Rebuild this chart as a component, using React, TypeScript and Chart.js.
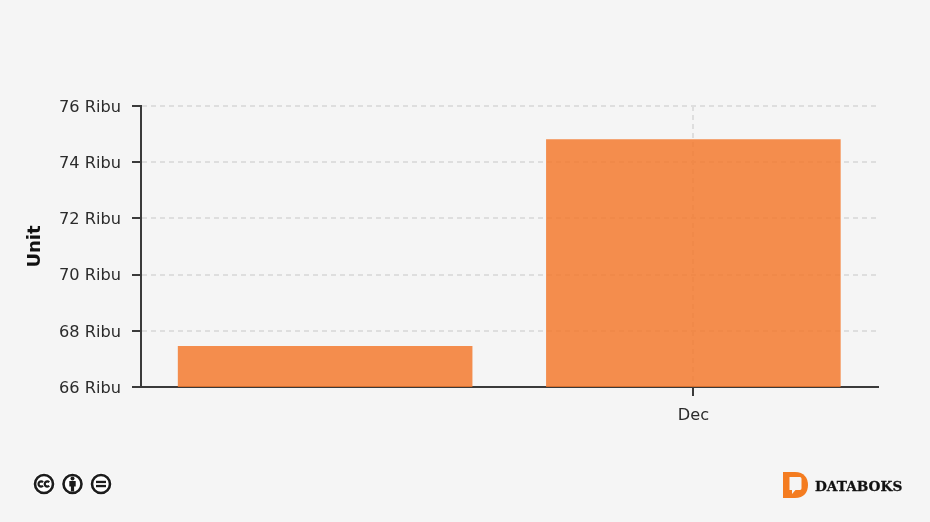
import React, { useEffect, useRef } from "react";
import { Chart, registerables } from "chart.js";

Chart.register(...registerables);

const categories = ["", "Dec"];
const unitValues = [67460, 74820];
const yMin = 66000;
const yMax = 76000;
const yStep = 2000;
const yTitle = "Unit";
const tickSuffix = " Ribu";
const brand = "DATABOKS";

const FONT = "'DejaVu Sans', sans-serif";
const INK = "#2b2b2b";
const AXIS = "#3a3a3a";
const GRID = "#dedede";
const BG = "#f5f5f5";

function CcIcons() {
  const ring = { fill: "#fff", stroke: "#1c1c1c", strokeWidth: 2.6 };
  const halo = { r: 11, fill: "#ffffff" };
  return (
    <svg width="100" height="30" viewBox="0 0 100 30" style={{ position: "absolute", left: 28, top: 469 }}>
      <g transform="translate(16,15)">
        <circle {...halo} />
        <circle r="9" {...ring} />
        <path d="M-1 -1.8 A2.6 2.6 0 1 0 -1 1.8" fill="none" stroke="#1c1c1c" strokeWidth="2.2" />
        <path d="M5.2 -1.8 A2.6 2.6 0 1 0 5.2 1.8" fill="none" stroke="#1c1c1c" strokeWidth="2.2" />
      </g>
      <g transform="translate(44.5,15)">
        <circle {...halo} />
        <circle r="9" {...ring} />
        <circle cy="-5.4" r="2" fill="#1c1c1c" />
        <path d="M-3.2 -3 H3.2 V2.4 H1.6 V7.6 H-1.6 V2.4 H-3.2 Z" fill="#1c1c1c" />
      </g>
      <g transform="translate(73,15)">
        <circle {...halo} />
        <circle r="9" {...ring} />
        <rect x="-5" y="-3.2" width="10" height="2.3" fill="#1c1c1c" />
        <rect x="-5" y="0.9" width="10" height="2.3" fill="#1c1c1c" />
      </g>
    </svg>
  );
}

function Brand() {
  return (
    <svg width="130" height="32" viewBox="0 0 130 32" style={{ position: "absolute", left: 780, top: 470 }}>
      <path
        d="M3 2 H15 C24 2 28 8 28 15 C28 22 24 28 15 28 H3 Z"
        fill="#f47c20"
      />
      <path d="M9.5 7 H20 C21 7 21.5 8 21.5 9 V18 C21.5 19 21 20 20 20 H15.5 L12 24 V20 H9.5 Z" fill="#f5f5f5" />
      <text
        x="35"
        y="21"
        fontFamily="'DejaVu Serif', serif"
        fontWeight="700"
        fontSize="13.7"
        fill="#111111"
        stroke="#111111"
        strokeWidth="0.3"
      >
        {brand}
      </text>
    </svg>
  );
}

export default function App() {
  const ref = useRef<HTMLCanvasElement | null>(null);

  useEffect(() => {
    document.body.style.margin = "0";
    document.body.style.background = BG;
    const chart = new Chart(ref.current as HTMLCanvasElement, {
      type: "bar",
      data: {
        labels: categories,
        datasets: [
          {
            label: yTitle,
            data: unitValues,
            backgroundColor: "rgba(243,120,44,0.84)",
            borderWidth: 0,
            barPercentage: 0.8,
            categoryPercentage: 1,
          },
        ],
      },
      options: {
        responsive: false,
        animation: false,
        layout: { padding: { top: 106, right: 52.5, left: 0, bottom: 0 } },
        plugins: { legend: { display: false }, title: { display: false }, tooltip: { enabled: false } },
        scales: {
          x: {
            grid: {
              color: (c: any) => (c.index === 1 ? GRID : "rgba(0,0,0,0)"),
              tickColor: (c: any) => (c.index === 1 ? AXIS : "rgba(0,0,0,0)"),
              lineWidth: 2,
              tickLength: 9,
              offset: false,
              tickWidth: 2,
            } as any,
            border: { color: AXIS, width: 2, dash: [5, 4] } as any,
            ticks: { color: INK, font: { family: FONT, size: 16.2 }, padding: 10, maxRotation: 0 },
            afterFit: (s: any) => {
              s.height = 522 - 387;
            },
          },
          y: {
            min: yMin,
            max: yMax,
            grid: {
              color: GRID,
              tickColor: AXIS,
              lineWidth: 2,
              tickLength: 9,
              tickWidth: 2,
            } as any,
            border: { color: AXIS, width: 2, dash: [5, 4] } as any,
            ticks: {
              stepSize: yStep,
              color: INK,
              font: { family: FONT, size: 16.2 },
              padding: 11,
              labelOffset: 1.5,
              callback: (v: any) => `${Number(v) / 1000}${tickSuffix}`,
            },
            title: {
              display: true,
              text: yTitle,
              color: "#111111",
              font: { family: FONT, size: 18, weight: "bold" },
              padding: { top: 25, bottom: 0 },
            },
            afterFit: (s: any) => {
              s.width = 141;
            },
          },
        },
      },
    } as any);
    return () => chart.destroy();
  }, []);

  return (
    <div style={{ position: "relative", width: 930, height: 522, background: BG, overflow: "hidden" }}>
      <canvas ref={ref} width={930} height={522} style={{ display: "block" }} />
      <CcIcons />
      <Brand />
    </div>
  );
}
